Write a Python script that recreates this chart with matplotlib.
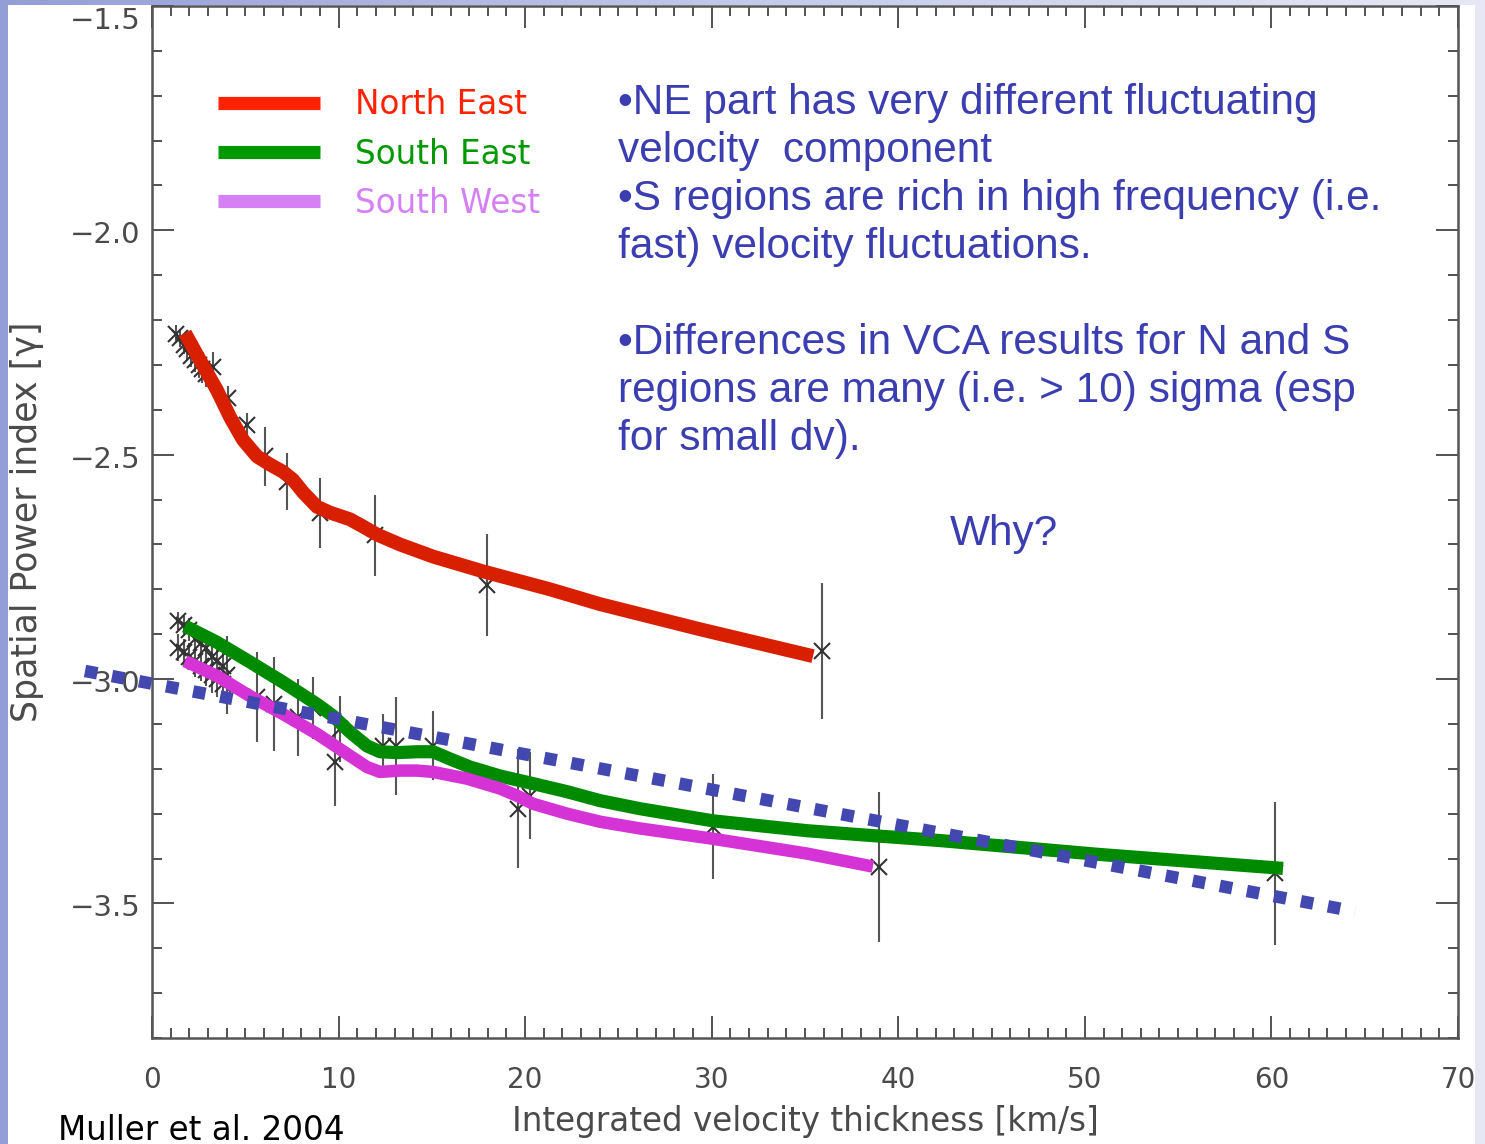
import numpy as np
import matplotlib.pyplot as plt
from matplotlib.patches import Rectangle
from matplotlib.ticker import MultipleLocator
from matplotlib.colors import LinearSegmentedColormap
import matplotlib.transforms as mtransforms

W, H = 1485, 1144

# smoothed power-index curves per region
ne_v = [1.77, 2.57, 3.48, 4.18, 4.88, 5.63, 6.33, 7.02, 7.56, 8.10, 8.84, 9.54,
        10.61, 11.31, 12.06, 13.29, 15.06, 17.74, 21.33, 24.01, 29.37, 35.43]
ne_g = [-2.229, -2.289, -2.356, -2.416, -2.467, -2.504, -2.522, -2.538, -2.556,
        -2.584, -2.616, -2.629, -2.644, -2.660, -2.678, -2.700, -2.727, -2.760,
        -2.800, -2.833, -2.889, -2.949]

se_v = [1.77, 3.48, 5.25, 7.02, 8.84, 9.70, 10.61, 11.52, 12.22, 13.13, 14.20,
        15.06, 15.97, 17.04, 18.65, 20.42, 22.24, 24.01, 26.16, 30.07, 35.11,
        38.64, 42.24, 50.81, 60.62]
se_g = [-2.882, -2.918, -2.962, -3.007, -3.056, -3.082, -3.118, -3.149, -3.162,
        -3.164, -3.162, -3.162, -3.178, -3.196, -3.216, -3.233, -3.251, -3.271,
        -3.289, -3.316, -3.338, -3.349, -3.360, -3.391, -3.422]

sw_v = [1.77, 3.48, 5.25, 7.02, 8.84, 10.61, 11.52, 12.22, 13.29, 14.20, 15.06,
        16.88, 18.65, 19.56, 20.42, 22.24, 24.01, 26.16, 30.07, 35.11, 38.64]
sw_g = [-2.960, -2.993, -3.038, -3.078, -3.122, -3.171, -3.196, -3.207, -3.204,
        -3.204, -3.207, -3.222, -3.244, -3.260, -3.278, -3.300, -3.318, -3.333,
        -3.356, -3.389, -3.418]

# measured points with 1-sigma errors
ne_pts_v = [1.3, 1.5, 1.7, 1.9, 2.1, 2.3, 2.5, 2.7, 2.9, 3.27, 4.07, 5.09, 6.06,
            7.24, 9.0, 11.95, 17.96, 35.91]
ne_pts_g = [-2.23, -2.24, -2.255, -2.265, -2.28, -2.29, -2.30, -2.31, -2.32,
            -2.304, -2.373, -2.433, -2.504, -2.56, -2.629, -2.68, -2.79, -2.938]
ne_pts_e = [0.02, 0.02, 0.02, 0.025, 0.025, 0.025, 0.03, 0.03, 0.03, 0.033,
            0.025, 0.027, 0.066, 0.063, 0.078, 0.091, 0.114, 0.152]

se_pts_v = [1.4, 1.7, 2.0, 2.3, 2.6, 2.9, 3.2, 3.5, 3.8, 6.54, 8.63, 10.08,
            12.4, 15.06, 20.26, 30.07, 60.2]
se_pts_g = [-2.87, -2.88, -2.89, -2.91, -2.92, -2.93, -2.95, -2.96, -2.97,
            -3.056, -3.064, -3.111, -3.149, -3.149, -3.26, -3.329, -3.433]
se_pts_e = [0.02, 0.02, 0.025, 0.025, 0.03, 0.03, 0.035, 0.035, 0.04, 0.105,
            0.069, 0.073, 0.07, 0.077, 0.097, 0.117, 0.159]

sw_pts_v = [1.4, 1.7, 2.0, 2.3, 2.6, 2.9, 3.2, 3.5, 3.8, 4.02, 5.63, 7.83,
            9.81, 13.1, 19.6, 38.97]
sw_pts_g = [-2.93, -2.94, -2.95, -2.96, -2.97, -2.98, -2.99, -3.0, -3.01,
            -2.991, -3.04, -3.085, -3.184, -3.149, -3.289, -3.418]
sw_pts_e = [0.03, 0.03, 0.03, 0.035, 0.035, 0.035, 0.04, 0.04, 0.04, 0.087,
            0.1, 0.086, 0.1, 0.11, 0.132, 0.167]

# straight trend line
fit_v = [-3.59, 64.48]
fit_g = [-2.982, -3.518]

legend_names = ["North East", "South East", "South West"]
yticks = [-3.5, -3.0, -2.5, -2.0, -1.5]
ytick_labels = ["\u22123.5", "\u22123.0", "\u22122.5", "\u22122.0", "\u22121.5"]

notes = [
    "\u2022NE part has very different fluctuating",
    "velocity  component",
    "\u2022S regions are rich in high frequency (i.e.",
    "fast) velocity fluctuations.",
    "",
    "\u2022Differences in VCA results for N and S",
    "regions are many (i.e. > 10) sigma (esp",
    "for small dv).",
]


def fx(x):
    return x / W


def fy(y):
    return 1 - y / H


fig = plt.figure(figsize=(W / 100, H / 100), dpi=100)

# slide background
bg = fig.add_axes([0, 0, 1, 1], zorder=-5)
cmap = LinearSegmentedColormap.from_list("slide", ["#949ed6", "#c3c9ea", "#e6e8f5"])
bg.imshow(np.linspace(0, 1, 256)[None, :], aspect="auto", cmap=cmap,
          extent=[0, 1, 0, 1])
bg.axis("off")
fig.add_artist(Rectangle((fx(8), 0), fx(1475) - fx(8), fy(5), transform=fig.transFigure,
                         facecolor="white", edgecolor="none", zorder=-4))

ax = fig.add_axes([fx(152), fy(1038), fx(1458) - fx(152), fy(6) - fy(1038)])
ax.set_xlim(0, 70)
ax.set_ylim(-3.8, -1.5)

frame_col = "#555555"
for s in ax.spines.values():
    s.set_color(frame_col)
    s.set_linewidth(1.8)

ax.xaxis.set_major_locator(MultipleLocator(10))
ax.xaxis.set_minor_locator(MultipleLocator(1))
ax.yaxis.set_major_locator(MultipleLocator(0.5))
ax.yaxis.set_minor_locator(MultipleLocator(0.1))
ax.tick_params(which="both", direction="in", top=True, right=True,
               color="#444444", width=1.3)
ax.tick_params(which="major", length=16)
ax.tick_params(which="minor", length=7)
ax.tick_params(axis="x", labelsize=20, labelcolor="#4a4a4a", pad=20)
ax.tick_params(axis="y", labelleft=False)

# y labels placed by hand so the top one stays inside the image
ylab_tr = mtransforms.blended_transform_factory(ax.transAxes, ax.transData)
for val, lab in zip(yticks, ytick_labels):
    shift = 0.033 if val == -1.5 else 0.011
    ax.text(-0.009, val - shift, lab, transform=ylab_tr, ha="right", va="center",
            fontsize=21, color="#4a4a4a")

ax.set_xlabel("Integrated velocity thickness [km/s]", fontsize=23.5,
              color="#4a4a4a", labelpad=8)
fig.text(fx(27), fy(522), "Spatial Power index [\u03b3]", rotation=90, fontsize=25,
         color="#4a4a4a", ha="center", va="center")

# data points with error bars
for pv, pg, pe in [(ne_pts_v, ne_pts_g, ne_pts_e),
                   (se_pts_v, se_pts_g, se_pts_e),
                   (sw_pts_v, sw_pts_g, sw_pts_e)]:
    ax.errorbar(pv, pg, yerr=pe, fmt="x", color="#333333", ecolor="#555555",
                elinewidth=1.5, markersize=12, markeredgewidth=1.5, capsize=0,
                zorder=2)

ax.plot(ne_v, ne_g, color="#d82000", lw=10, solid_capstyle="butt",
        solid_joinstyle="round", zorder=4)
ax.plot(se_v, se_g, color="#008a00", lw=9.5, solid_capstyle="butt",
        solid_joinstyle="round", zorder=4)
ax.plot(sw_v, sw_g, color="#d633d6", lw=9, solid_capstyle="butt",
        solid_joinstyle="round", zorder=4)

ax.plot(fit_v, fit_g, color="#4347b0", lw=9, dashes=(1, 1.2),
        dash_capstyle="butt", clip_on=False, zorder=5)

# legend drawn as plain bars and labels
leg_cols = ["#ff2200", "#009900", "#d580f5"]
for i, (name, col) in enumerate(zip(legend_names, leg_cols)):
    y = 103 + 49 * i
    fig.add_artist(plt.Line2D([fx(218), fx(320)], [fy(y), fy(y)], color=col, lw=9.5,
                              solid_capstyle="butt", transform=fig.transFigure))
    fig.text(fx(355), fy(y + 2), name, color=col, fontsize=23.5, ha="left",
             va="center", family="DejaVu Sans")

blue = "#3b3eb0"
for i, line in enumerate(notes):
    if line:
        fig.text(fx(618), fy(103 + 48 * i), line, color=blue, fontsize=30.5,
                 ha="left", va="center", family="Liberation Sans")
fig.text(fx(950), fy(534), "Why?", color=blue, fontsize=30.5, ha="left", va="center",
         family="Liberation Sans")

fig.text(fx(58), fy(1130), "Muller et al. 2004", color="black", fontsize=23.5,
         ha="left", va="center", family="DejaVu Sans")

fig.savefig("out.png", dpi=100)
